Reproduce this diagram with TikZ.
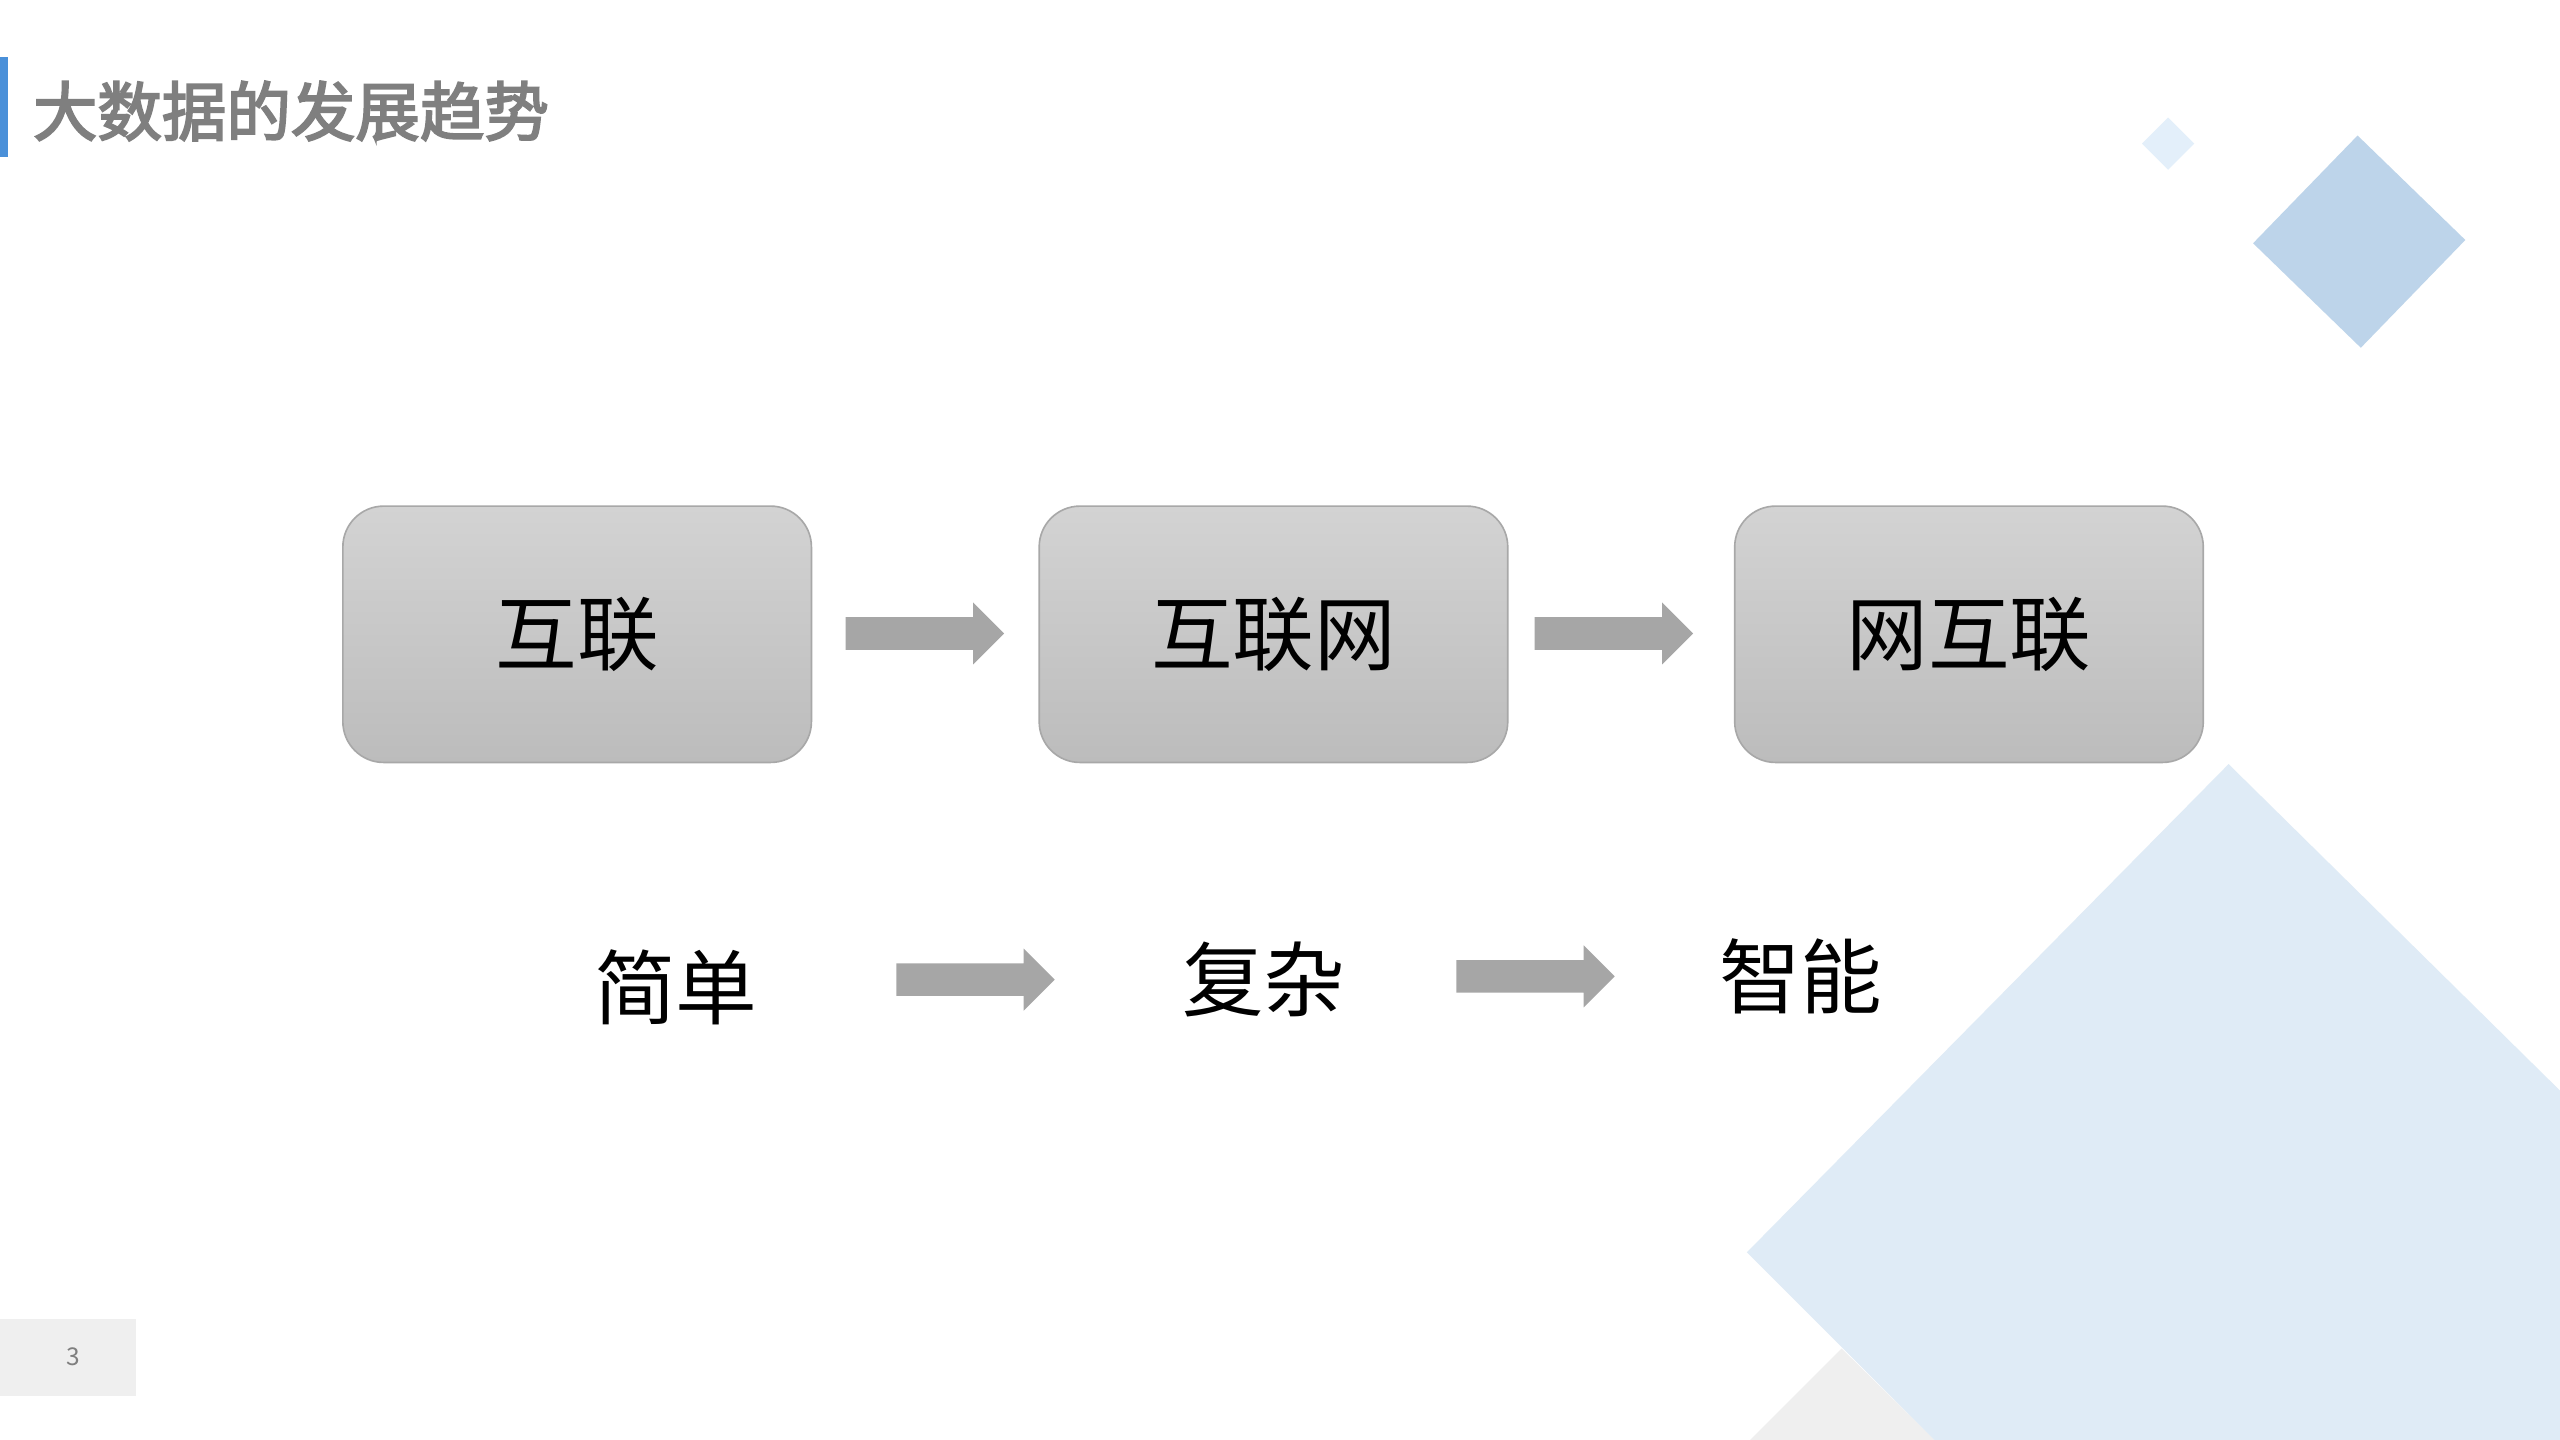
\documentclass[tikz,border=0pt]{standalone}
\usepackage{fontspec}
\newfontfamily\cjk{Noto Sans CJK SC}
\newfontfamily\cjkb[FakeBold=3]{Noto Sans CJK SC}
\usetikzlibrary{shapes.geometric}
\definecolor{barblue}{HTML}{4A90D9}
\definecolor{titlegray}{HTML}{7F7F7F}
\definecolor{dia1}{HTML}{E3EFFA}
\definecolor{dia2}{HTML}{BDD4EA}
\definecolor{tri}{HTML}{DFEBF6}
\definecolor{trigray}{HTML}{EFEFEF}
\definecolor{arrgray}{HTML}{A6A6A6}
\definecolor{boxtop}{HTML}{D3D3D3}
\definecolor{boxbot}{HTML}{BCBCBC}
\definecolor{boxline}{HTML}{A8A8A8}
\tikzset{
  stagebox/.style={draw=boxline, line width=1pt, rounded corners=25pt, top color=boxtop, bottom color=boxbot, minimum width=287pt, minimum height=157pt, inner sep=0pt, font=\cjk\fontsize{50}{50}\selectfont},
  wordlabel/.style={font=\cjk\fontsize{50}{50}\selectfont, inner sep=0pt},
  blockarrow/.style={fill=arrgray, draw=none}
}
\newcommand{\blockarr}[3]{% x1 x2 y
  \fill[blockarrow] (#1,-#3+10) -- (#2-19,-#3+10) -- (#2-19,-#3+19) -- (#2,-#3) -- (#2-19,-#3-19) -- (#2-19,-#3-10) -- (#1,-#3-10) -- cycle;}
\begin{document}
\begin{tikzpicture}[x=1pt,y=1pt]
\useasboundingbox (0,0) rectangle (1568,-882);
\fill[white] (0,0) rectangle (1568,-882);
% decorations
\fill[trigray] (1128,-826) -- (1185,-882) -- (1072,-882) -- cycle;
\fill[tri] (1365,-468) -- (1568,-668) -- (1568,-882) -- (1185,-882) -- (1070,-767) -- cycle;
\fill[dia1] (1328,-72) -- (1344,-88) -- (1328,-104) -- (1312,-88) -- cycle;
\fill[dia2] (1444,-83) -- (1510,-147) -- (1446,-213) -- (1380,-149) -- cycle;
% title
\fill[barblue] (0,-35) rectangle (5,-96);
\node[anchor=west, text=titlegray, font=\cjkb\fontsize{39.5}{39.5}\selectfont, inner sep=0pt] (title) at (20,-68) {大数据的发展趋势};
% page number
\fill[trigray] (0,-808) rectangle (83,-855);
\node[text=titlegray, font=\cjk\fontsize{15}{15}\selectfont] (pnum) at (45,-831) {3};
% boxes
\node[stagebox] (b1) at (353.5,-388.5) {互联};
\node[stagebox] (b2) at (780,-388.5) {互联网};
\node[stagebox] (b3) at (1206,-388.5) {网互联};
\blockarr{518}{615}{388}
\blockarr{940}{1037}{388}
% bottom row
\node[wordlabel] (w1) at (414,-605) {简单};
\node[wordlabel] (w2) at (774,-600) {复杂};
\node[wordlabel] (w3) at (1103,-598) {智能};
\blockarr{549}{646}{600}
\blockarr{892}{989}{598}
\end{tikzpicture}
\end{document}
